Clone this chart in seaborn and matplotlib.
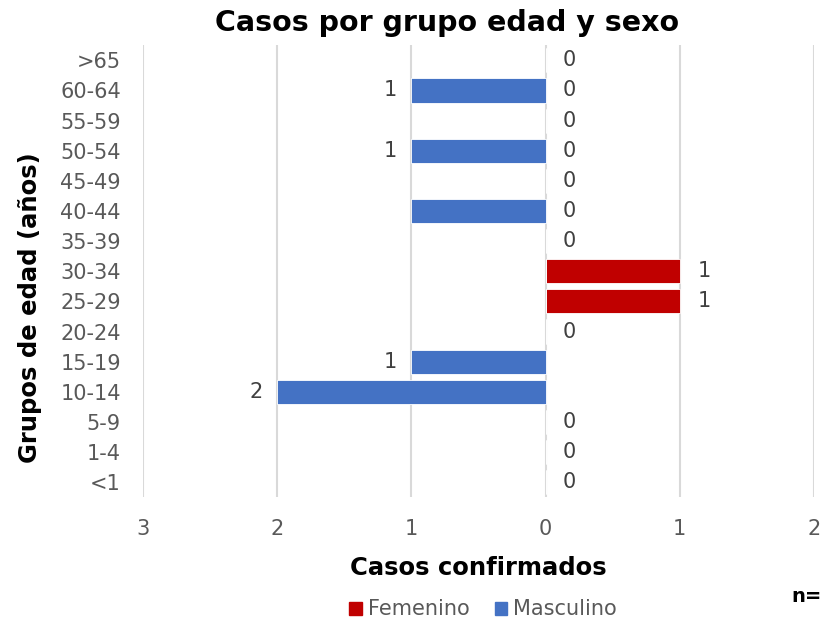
import pandas as pd
import numpy as np
import matplotlib.pyplot as plt
import seaborn as sns

grupos = [">65", "60-64", "55-59", "50-54", "45-49", "40-44", "35-39", "30-34",
          "25-29", "20-24", "15-19", "10-14", "5-9", "1-4", "<1"]
masculino = [0, 1, 0, 1, 0, 1, 0, 0, 0, 0, 1, 2, 0, 0, 0]
femenino = [0, 0, 0, 0, 0, 0, 0, 1, 1, 0, 0, 0, 0, 0, 0]
etiq_masc = ["", "1", "", "1", "", "", "", "", "", "", "1", "2", "", "", ""]
etiq_fem = ["0", "0", "0", "0", "0", "0", "0", "1", "1", "0", "", "", "0", "0", "0"]
ticks = [-3, -2, -1, 0, 1, 2]

sns.set_style("white")
plt.rcParams['font.family'] = ['DejaVu Sans']

df = pd.DataFrame({
    "grupo": grupos * 2,
    "sexo": ["Femenino"] * len(grupos) + ["Masculino"] * len(grupos),
    "valor": femenino + [-v for v in masculino],
})

fig = plt.figure(figsize=(8.23, 6.2), dpi=100)
ax = fig.add_axes([0.1738, 0.198, 0.8152, 0.729])
sns.barplot(data=df, x="valor", y="grupo", hue="sexo", order=grupos,
            hue_order=["Femenino", "Masculino"], dodge=False, width=0.8,
            palette={"Femenino": "#C00000", "Masculino": "#4472C4"}, saturation=1,
            orient="h", ax=ax, legend=False, edgecolor="white", linewidth=0.6)

ax.set_xlim(-3, 2)
ax.set_xticks(ticks)
ax.set_xticklabels([str(abs(t)) for t in ticks])
ax.grid(axis="x", color="#D9D9D9", linewidth=1.5)
ax.set_axisbelow(True)
for s in ax.spines.values():
    s.set_visible(False)
ax.tick_params(axis="both", length=0, labelsize=15, labelcolor="#595959")
ax.tick_params(axis="x", pad=16)
ax.tick_params(axis="y", pad=16)

for i, (m, f) in enumerate(zip(masculino, femenino)):
    if etiq_masc[i]:
        ax.text(-m - 0.11, i, etiq_masc[i], ha="right", va="center",
                fontsize=15, color="#404040")
    if etiq_fem[i]:
        ax.text(f + 0.13, i, etiq_fem[i], ha="left", va="center",
                fontsize=15, color="#404040")

ax.set_xlabel("Casos confirmados", fontsize=17.5, fontweight="bold", color="black")
ax.xaxis.set_label_coords(0.5, -0.13)
ax.set_ylabel("Grupos de edad (años)", fontsize=17.5, fontweight="bold", color="black")
ax.yaxis.set_label_coords(-0.15, 0.42)
fig.text(0.543, 0.963, "Casos por grupo edad y sexo", fontsize=20.5, fontweight="bold",
         ha="center", va="center", color="black")

handles = [plt.Rectangle((0, 0), 1, 1, color="#C00000"),
           plt.Rectangle((0, 0), 1, 1, color="#4472C4")]
leg = fig.legend(handles, ["Femenino", "Masculino"], loc="center", bbox_to_anchor=(0.587, 0.017),
                 ncol=2, frameon=False, fontsize=15, handlelength=0.6, handleheight=0.6,
                 handletextpad=0.3, columnspacing=1.2, labelcolor="#595959")
fig.text(0.999, 0.038, "n=", fontsize=14, fontweight="bold", ha="right", va="center",
         color="black")

fig.savefig("out.png", dpi=100)
